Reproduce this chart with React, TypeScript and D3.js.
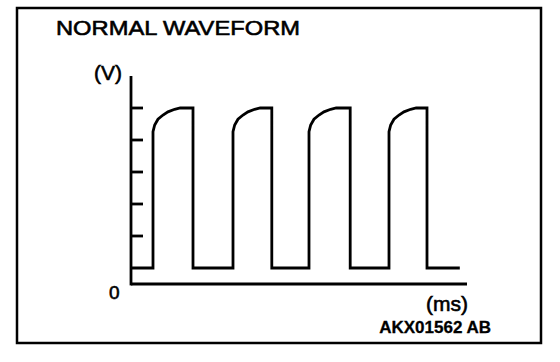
import * as d3 from "d3";
import React, { useEffect, useRef } from "react";

// pulse edges in ms
const riseTimes = [2.75, 12.75, 22.25, 32.25];
const fallTimes = [7.75, 17.6, 27.4, 37.0];
const endTime = 41.1;
const lowLevel = 0.5;
const highLevel = 5.5;
// rounded knee after each rising edge: [ms after rise, volts]
const knee: [number, number][] = [
  [0, 4.76],
  [0.21, 4.97],
  [0.62, 5.15],
  [1.25, 5.28],
  [1.87, 5.38],
  [2.71, 5.46],
  [3.4, 5.5],
];
const yTicks = [1.5, 2.5, 3.5, 4.5, 5.5];

const W = 560;
const H = 362;

const App: React.FC = () => {
  const svgRef = useRef<SVGSVGElement>(null);

  useEffect(() => {
    const svg = d3.select(svgRef.current);
    svg.selectAll("*").remove();

    const x = d3.scaleLinear().domain([0, 42]).range([131, 467]);
    const y = d3.scaleLinear().domain([0, 6.5]).range([284, 76]);
    const font = "Liberation Sans, Arial, sans-serif";

    // frame
    svg
      .append("rect")
      .attr("x", 17)
      .attr("y", 8)
      .attr("width", 524)
      .attr("height", 335)
      .attr("fill", "none")
      .attr("stroke", "#000")
      .attr("stroke-width", 2.5);

    svg
      .append("text")
      .attr("x", 56)
      .attr("y", 35)
      .attr("font-family", font)
      .attr("font-size", 21)
      .attr("stroke", "#000")
      .attr("stroke-width", 0.6)
      .attr("textLength", 244)
      .attr("lengthAdjust", "spacingAndGlyphs")
      .text("NORMAL WAVEFORM");

    // axes
    const axisG = svg.append("g").attr("stroke", "#000").attr("stroke-width", 2.8);
    axisG
      .append("line")
      .attr("x1", x(0))
      .attr("x2", x(0))
      .attr("y1", y(6.5))
      .attr("y2", y(0) + 1.4);
    axisG
      .append("line")
      .attr("x1", x(0))
      .attr("x2", x(42))
      .attr("y1", y(0))
      .attr("y2", y(0));
    axisG
      .selectAll("line.tick")
      .data(yTicks)
      .join("line")
      .attr("class", "tick")
      .attr("x1", x(0))
      .attr("x2", x(0) + 12)
      .attr("y1", (d) => y(d))
      .attr("y2", (d) => y(d));

    const pts: [number, number][] = [[0, lowLevel]];
    riseTimes.forEach((r, i) => {
      pts.push([r, lowLevel]);
      knee.forEach(([dt, v]) => pts.push([r + dt, v]));
      pts.push([fallTimes[i], highLevel]);
      pts.push([fallTimes[i], lowLevel]);
    });
    pts.push([endTime, lowLevel]);

    const line = d3
      .line<[number, number]>()
      .x((d) => x(d[0]))
      .y((d) => y(d[1]));

    svg
      .append("path")
      .attr("d", line(pts))
      .attr("fill", "none")
      .attr("stroke", "#000")
      .attr("stroke-width", 2.8)
      .attr("stroke-linejoin", "miter");

    const label = (
      tx: number,
      ty: number,
      txt: string,
      size: number,
      anchor = "start",
      bold = false
    ) =>
      svg
        .append("text")
        .attr("x", tx)
        .attr("y", ty)
        .attr("text-anchor", anchor)
        .attr("font-family", font)
        .attr("font-size", size)
        .attr("font-weight", bold ? "bold" : "normal")
        .attr("stroke", "#000")
        .attr("stroke-width", bold ? 0.3 : 0.6)
        .text(txt);

    label(94, 80, "(V)", 21);
    label(109, 299, "0", 19);
    label(468, 311, "(ms)", 21, "end");
    label(491, 333, "AKX01562 AB", 17, "end", true);
  }, []);

  return (
    <svg
      ref={svgRef}
      width={W}
      height={H}
      style={{ position: "absolute", left: 0, top: 0, background: "#fff" }}
    />
  );
};

export default App;
